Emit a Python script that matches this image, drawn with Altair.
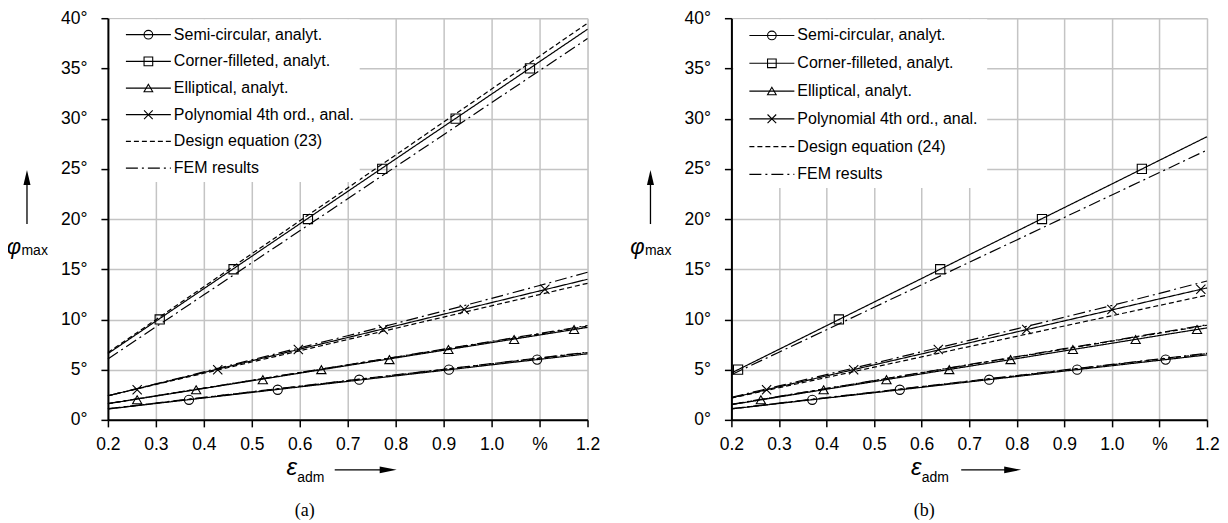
import altair as alt
import pandas as pd

FONT = "Liberation Sans Narrow, Arial Narrow, Liberation Sans, Arial, sans-serif"
SERIF = "Liberation Serif, Times New Roman, serif"

# ---------------- data ----------------
X_VALUES = [0.2, 0.3, 0.4, 0.5, 0.6, 0.7, 0.8, 0.9, 1.0, 1.1, 1.2]
X_TICKS = [0.2, 0.3, 0.4, 0.5, 0.6, 0.7, 0.8, 0.9, 1.0, 1.1, 1.2]
X_TICK_LABELS = ["0.2", "0.3", "0.4", "0.5", "0.6", "0.7", "0.8", "0.9", "1.0", "%", "1.2"]
Y_TICKS = [0, 5, 10, 15, 20, 25, 30, 35, 40]

SERIES = ["circle", "square", "triangle", "x"]
KINDS = ["ana", "des", "fem"]

# panel (a)
A_SEMI_ANA = [1.08, 1.63, 2.18, 2.73, 3.28, 3.83, 4.38, 4.93, 5.48, 6.03, 6.58]
A_SEMI_DES = [1.10, 1.66, 2.22, 2.78, 3.34, 3.90, 4.46, 5.02, 5.58, 6.14, 6.70]
A_SEMI_FEM = [1.12, 1.68, 2.24, 2.80, 3.36, 3.92, 4.48, 5.04, 5.60, 6.17, 6.74]
A_CORN_ANA = [6.60, 9.83, 13.06, 16.29, 19.52, 22.75, 25.98, 29.21, 32.44, 35.67, 38.90]
A_CORN_DES = [6.70, 9.98, 13.26, 16.54, 19.82, 23.10, 26.38, 29.66, 32.94, 36.22, 39.50]
A_CORN_FEM = [6.07, 9.26, 12.45, 15.64, 18.83, 22.02, 25.21, 28.40, 31.59, 34.78, 37.97]
A_ELL_ANA = [1.61, 2.37, 3.13, 3.89, 4.65, 5.41, 6.17, 6.93, 7.69, 8.45, 9.21]
A_ELL_DES = [1.62, 2.39, 3.16, 3.93, 4.70, 5.47, 6.24, 7.01, 7.78, 8.55, 9.33]
A_ELL_FEM = [1.63, 2.40, 3.17, 3.94, 4.72, 5.49, 6.26, 7.04, 7.82, 8.60, 9.40]
A_POLY_ANA = [2.40, 3.56, 4.72, 5.88, 7.04, 8.20, 9.36, 10.52, 11.68, 12.84, 14.00]
A_POLY_DES = [2.40, 3.52, 4.64, 5.76, 6.88, 8.00, 9.12, 10.24, 11.36, 12.48, 13.60]
A_POLY_FEM = [2.40, 3.58, 4.78, 5.98, 7.18, 8.38, 9.60, 10.84, 12.10, 13.38, 14.70]

A_MK_CIRCLE_X = [0.369, 0.554, 0.724, 0.911, 1.095]
A_MK_CIRCLE_Y = [2, 3, 4, 5, 6]
A_MK_SQUARE_X = [0.308, 0.462, 0.617, 0.772, 0.925, 1.080]
A_MK_SQUARE_Y = [10, 15, 20, 25, 30, 35]
A_MK_TRI_X = [0.261, 0.384, 0.523, 0.645, 0.787, 0.910, 1.047, 1.172]
A_MK_TRI_Y = [2, 3, 4, 5, 6, 7, 8, 9]
A_MK_X_X = [0.261, 0.429, 0.597, 0.774, 0.943, 1.111]
A_MK_X_Y = [3, 5, 7, 9, 11, 13]

# panel (b)
B_SEMI_ANA = [1.09, 1.63, 2.17, 2.70, 3.24, 3.78, 4.32, 4.86, 5.39, 5.93, 6.47]
B_SEMI_DES = [1.10, 1.65, 2.20, 2.75, 3.30, 3.84, 4.39, 4.94, 5.49, 6.04, 6.59]
B_SEMI_FEM = [1.12, 1.67, 2.22, 2.77, 3.32, 3.87, 4.42, 4.97, 5.52, 6.07, 6.63]
B_CORN_ANA = [4.67, 7.02, 9.38, 11.73, 14.08, 16.44, 18.79, 21.14, 23.49, 25.85, 28.20]
B_CORN_FEM = [4.50, 6.74, 8.97, 11.21, 13.45, 15.69, 17.92, 20.16, 22.40, 24.63, 26.87]
B_ELL_ANA = [1.52, 2.28, 3.05, 3.81, 4.58, 5.34, 6.10, 6.87, 7.63, 8.40, 9.16]
B_ELL_DES = [1.53, 2.32, 3.11, 3.90, 4.69, 5.48, 6.26, 7.05, 7.84, 8.63, 9.42]
B_ELL_FEM = [1.55, 2.34, 3.13, 3.92, 4.71, 5.51, 6.30, 7.09, 7.88, 8.68, 9.47]
B_POLY_ANA = [2.19, 3.29, 4.38, 5.48, 6.57, 7.67, 8.76, 9.86, 10.95, 12.05, 13.14]
B_POLY_DES = [2.17, 3.20, 4.22, 5.25, 6.27, 7.30, 8.32, 9.35, 10.37, 11.40, 12.42]
B_POLY_FEM = [2.25, 3.38, 4.51, 5.64, 6.78, 7.92, 9.07, 10.22, 11.39, 12.60, 13.83]

B_MK_CIRCLE_X = [0.370, 0.554, 0.742, 0.927, 1.113]
B_MK_CIRCLE_Y = [2, 3, 4, 5, 6]
B_MK_SQUARE_X = [0.214, 0.426, 0.639, 0.853, 1.063]
B_MK_SQUARE_Y = [5, 10, 15, 20, 25]
B_MK_TRI_X = [0.262, 0.394, 0.526, 0.658, 0.787, 0.918, 1.050, 1.179]
B_MK_TRI_Y = [2, 3, 4, 5, 6, 7, 8, 9]
B_MK_X_X = [0.274, 0.457, 0.635, 0.821, 1.000, 1.187]
B_MK_X_Y = [3, 5, 7, 9, 11, 13]

LEGEND_A = ["Semi-circular, analyt.", "Corner-filleted, analyt.", "Elliptical, analyt.",
            "Polynomial 4th ord., anal.", "Design equation (23)", "FEM results"]
LEGEND_B = ["Semi-circular, analyt.", "Corner-filleted, analyt.", "Elliptical, analyt.",
            "Polynomial 4th ord., anal.", "Design equation (24)", "FEM results"]
LEGEND_SHAPE = ["circle", "square", "triangle", "x", None, None]
LEGEND_KIND = ["ana", "ana", "ana", "ana", "des", "fem"]

# ---------------- styling ----------------
X_PATH = "M-1,-1L1,1M-1,1L1,-1"
SHAPE_SCALE = alt.Scale(domain=SERIES, range=["circle", "square", "triangle-up", X_PATH])
DASH_SCALE = alt.Scale(domain=KINDS, range=[[1, 0], [5, 3], [12, 4, 2, 4]])

label_pairs = [(v, l) for v, l in zip(X_TICKS, X_TICK_LABELS) if l != f"{v:.1f}"]
x_label_expr = "format(datum.value, '.1f')"
for v, l in label_pairs:
    x_label_expr = f"abs(datum.value - {v}) < 0.001 ? '{l}' : ({x_label_expr})"

TICK_FS = 17.5


def x_axis():
    return alt.Axis(values=X_TICKS, labelExpr=x_label_expr, title=None, grid=True,
                    gridColor="#c4c4c4", gridWidth=1.5, domainColor="black", domainWidth=2,
                    tickColor="black", tickSize=7, tickWidth=1.5, labelFont=FONT,
                    labelFontSize=TICK_FS, labelColor="black", labelPadding=9, labelFlush=False)


def y_axis():
    return alt.Axis(values=Y_TICKS, labelExpr="datum.value + '°'", title=None, grid=True,
                    gridColor="#c4c4c4", gridWidth=1.5, domainColor="black", domainWidth=2,
                    tickColor="black", tickSize=7, tickWidth=1.5, labelFont=FONT,
                    labelFontSize=TICK_FS, labelColor="black", labelPadding=14, labelFlush=False)


def build_panel(curves, markers, legend_labels, leg_top, leg_step, leg_h, leg_w,
                width, tag, eps_x, arrow_x0, arrow_x1, tag_x):
    rows = []
    for series, kind, vals in curves:
        for xv, yv in zip(X_VALUES, vals):
            rows.append({"x": xv, "y": yv, "series": series, "kind": kind,
                         "key": series + "_" + kind})
    df = pd.DataFrame(rows)
    mrows = []
    for series, xs, ys in markers:
        for xv, yv in zip(xs, ys):
            mrows.append({"x": xv, "y": yv, "series": series})
    mdf = pd.DataFrame(mrows)

    xs = alt.Scale(domain=[X_TICKS[0], X_TICKS[-1]], nice=False, zero=False)
    ys = alt.Scale(domain=[Y_TICKS[0], Y_TICKS[-1]], nice=False, zero=False)

    lines = alt.Chart(df).mark_line(color="black", strokeWidth=1.2).encode(
        x=alt.X("x:Q", scale=xs, axis=x_axis()),
        y=alt.Y("y:Q", scale=ys, axis=y_axis()),
        detail="key:N",
        strokeDash=alt.StrokeDash("kind:N", scale=DASH_SCALE, legend=None),
    )
    pts = alt.Chart(mdf).mark_point(filled=False, color="black", strokeWidth=1.1,
                                     size=85, opacity=1).encode(
        x=alt.X("x:Q", scale=xs),
        y=alt.Y("y:Q", scale=ys),
        shape=alt.Shape("series:N", scale=SHAPE_SCALE, legend=None),
    )

    # legend
    bg = alt.Chart(pd.DataFrame({"a": [0]})).mark_rect(fill="white").encode(
        x=alt.value(2), x2=alt.value(leg_w), y=alt.value(1), y2=alt.value(leg_h))
    ldf = pd.DataFrame({"label": legend_labels, "series": LEGEND_SHAPE, "kind": LEGEND_KIND,
                        "row": list(range(len(legend_labels)))})
    layers = [lines, pts, bg]
    for i, r in ldf.iterrows():
        yy = leg_top + leg_step * r["row"]
        one = pd.DataFrame([r])
        layers.append(alt.Chart(one).mark_rule(color="black", strokeWidth=1.2).encode(
            x=alt.value(18), x2=alt.value(63), y=alt.value(yy),
            strokeDash=alt.StrokeDash("kind:N", scale=DASH_SCALE, legend=None)))
        if r["series"] is not None:
            layers.append(alt.Chart(one).mark_point(filled=False, color="black",
                                                    strokeWidth=1.1, size=75, opacity=1).encode(
                x=alt.value(40.5), y=alt.value(yy),
                shape=alt.Shape("series:N", scale=SHAPE_SCALE, legend=None)))
        layers.append(alt.Chart(one).mark_text(align="left", baseline="middle", font=FONT,
                                               fontSize=16, color="black").encode(
            x=alt.value(66), y=alt.value(yy), text="label:N"))

    # y-axis title: phi_max with arrow
    layers.append(alt.Chart(pd.DataFrame({"t": ["φ"]})).mark_text(
        align="center", baseline="alphabetic", font=FONT, fontSize=22, fontStyle="italic",
        color="black").encode(x=alt.value(-94), y=alt.value(236), text="t:N"))
    layers.append(alt.Chart(pd.DataFrame({"t": ["max"]})).mark_text(
        align="left", baseline="alphabetic", font=FONT, fontSize=14, color="black").encode(
        x=alt.value(-86.5), y=alt.value(237), text="t:N"))
    layers.append(alt.Chart(pd.DataFrame({"a": [0]})).mark_rule(
        color="black", strokeWidth=1.3).encode(x=alt.value(-81), y=alt.value(206), y2=alt.value(164)))
    layers.append(alt.Chart(pd.DataFrame({"a": [0]})).mark_point(
        shape="M-0.47,1L0,-1L0.47,1Z", filled=True, color="black", size=225, opacity=1).encode(
        x=alt.value(-81), y=alt.value(159.5)))

    # x-axis title: eps_adm with arrow
    layers.append(alt.Chart(pd.DataFrame({"t": ["ε"]})).mark_text(
        align="center", baseline="alphabetic", font=FONT, fontSize=24, fontStyle="italic",
        color="black").encode(x=alt.value(eps_x), y=alt.value(457), text="t:N"))
    layers.append(alt.Chart(pd.DataFrame({"t": ["adm"]})).mark_text(
        align="left", baseline="alphabetic", font=FONT, fontSize=14, color="black").encode(
        x=alt.value(eps_x + 5.5), y=alt.value(464), text="t:N"))
    layers.append(alt.Chart(pd.DataFrame({"a": [0]})).mark_rule(
        color="black", strokeWidth=1.3).encode(x=alt.value(arrow_x0), x2=alt.value(arrow_x1 - 14),
                                               y=alt.value(452)))
    layers.append(alt.Chart(pd.DataFrame({"a": [0]})).mark_point(
        shape="M-1,-0.4L1,0L-1,0.4Z", filled=True, color="black", size=289, opacity=1).encode(
        x=alt.value(arrow_x1 - 8.5), y=alt.value(452)))

    # panel tag
    layers.append(alt.Chart(pd.DataFrame({"t": [tag]})).mark_text(
        align="center", baseline="middle", font=SERIF, fontSize=18, color="black").encode(
        x=alt.value(tag_x), y=alt.value(493), text="t:N"))

    return alt.layer(*layers).properties(width=width, height=402)


panel_a = build_panel(
    curves=[("circle", "ana", A_SEMI_ANA), ("circle", "des", A_SEMI_DES), ("circle", "fem", A_SEMI_FEM),
            ("square", "ana", A_CORN_ANA), ("square", "des", A_CORN_DES), ("square", "fem", A_CORN_FEM),
            ("triangle", "ana", A_ELL_ANA), ("triangle", "des", A_ELL_DES), ("triangle", "fem", A_ELL_FEM),
            ("x", "ana", A_POLY_ANA), ("x", "des", A_POLY_DES), ("x", "fem", A_POLY_FEM)],
    markers=[("circle", A_MK_CIRCLE_X, A_MK_CIRCLE_Y), ("square", A_MK_SQUARE_X, A_MK_SQUARE_Y),
             ("triangle", A_MK_TRI_X, A_MK_TRI_Y), ("x", A_MK_X_X, A_MK_X_Y)],
    legend_labels=LEGEND_A, leg_top=16.5, leg_step=26.7, leg_h=164, leg_w=252,
    width=480, tag="(a)", eps_x=184, arrow_x0=227, arrow_x1=289, tag_x=197)

panel_b = build_panel(
    curves=[("circle", "ana", B_SEMI_ANA), ("circle", "des", B_SEMI_DES), ("circle", "fem", B_SEMI_FEM),
            ("square", "ana", B_CORN_ANA), ("square", "fem", B_CORN_FEM),
            ("triangle", "ana", B_ELL_ANA), ("triangle", "des", B_ELL_DES), ("triangle", "fem", B_ELL_FEM),
            ("x", "ana", B_POLY_ANA), ("x", "des", B_POLY_DES), ("x", "fem", B_POLY_FEM)],
    markers=[("circle", B_MK_CIRCLE_X, B_MK_CIRCLE_Y), ("square", B_MK_SQUARE_X, B_MK_SQUARE_Y),
             ("triangle", B_MK_TRI_X, B_MK_TRI_Y), ("x", B_MK_X_X, B_MK_X_Y)],
    legend_labels=LEGEND_B, leg_top=17.3, leg_step=27.8, leg_h=170, leg_w=256,
    width=476, tag="(b)", eps_x=185, arrow_x0=230, arrow_x1=290, tag_x=193)

chart = alt.hconcat(panel_a, panel_b, spacing=144, bounds="flush").properties(
    padding={"left": -2, "top": 0, "right": 0, "bottom": 0}
).configure_view(stroke="#a0a0a0", strokeWidth=1.5).configure(background="white")

chart.save("out.html", embed_options={"renderer": "svg", "actions": False})
